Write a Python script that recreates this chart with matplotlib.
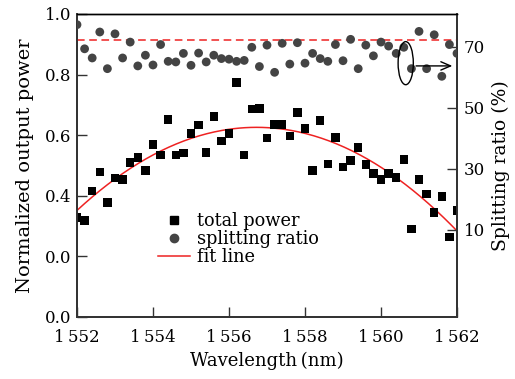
import numpy as np
import matplotlib
matplotlib.use('Agg')
import matplotlib.pyplot as plt
from matplotlib.patches import Ellipse
from matplotlib.lines import Line2D

plt.rcParams['font.family'] = ['DejaVu Serif']

# wavelength grid, 0.2 nm step
wavelength = np.linspace(1552, 1562, 51)

total_power = [0.329, 0.318, 0.416, 0.479, 0.377, 0.458, 0.453, 0.509, 0.526, 0.483,
               0.569, 0.534, 0.652, 0.534, 0.541, 0.606, 0.634, 0.542, 0.662, 0.581,
               0.605, 0.773, 0.535, 0.687, 0.689, 0.591, 0.636, 0.636, 0.598, 0.675,
               0.623, 0.483, 0.649, 0.505, 0.592, 0.495, 0.516, 0.559, 0.504, 0.474,
               0.454, 0.473, 0.461, 0.519, 0.291, 0.453, 0.406, 0.344, 0.398, 0.264,
               0.352]

splitting_ratio = [77.2, 69.3, 66.3, 74.8, 62.8, 74.2, 66.3, 71.5, 63.7, 67.2,
                   64.0, 70.7, 65.2, 65.0, 67.8, 63.9, 67.9, 65.0, 67.2, 66.1,
                   65.9, 65.2, 65.5, 69.8, 63.5, 70.5, 61.6, 71.1, 64.3, 71.3,
                   64.6, 67.8, 66.1, 65.2, 70.7, 65.4, 72.4, 62.8, 70.5, 67.0,
                   71.5, 70.2, 67.8, 69.8, 62.8, 75.0, 62.8, 73.9, 60.3, 70.7,
                   67.8]

ratio_ref = 72.2

x_ticks = [1552, 1554, 1556, 1558, 1560, 1562]
x_labels = ['1\u2009552', '1\u2009554', '1\u2009556', '1\u2009558', '1\u2009560', '1\u2009562']
y_ticks = [0.0, 0.2, 0.4, 0.6, 0.8, 1.0]
y_labels = ['0.0', '0.0', '0.4', '0.6', '0.8', '1.0']
r_ticks = [10, 30, 50, 70]

fig = plt.figure(figsize=(5.15, 3.79), dpi=100)
ax = fig.add_axes([0.1495, 0.1636, 0.7379, 0.7995])
ax2 = ax.twinx()

# quadratic fit to the total power
coef = np.polyfit(wavelength, total_power, 2)
xf = np.linspace(1552, 1562, 200)
ax.plot(xf, np.polyval(coef, xf), color='#ee2222', lw=1.1, zorder=2)
ax.scatter(wavelength, total_power, marker='s', s=38, color='black', zorder=3,
           edgecolors='none')

ax2.scatter(wavelength, splitting_ratio, marker='o', s=40, color='#444444',
            edgecolors='none', zorder=3)
ax2.axhline(ratio_ref, color='#ee2222', lw=1.1, ls=(0, (5, 3)), zorder=2)

ax.set_xlim(1552, 1562)
ax.set_ylim(0, 1.0)
ax2.set_ylim(-18.5, 80.7)

ax.set_xticks(x_ticks)
ax.set_xticklabels(x_labels)
ax.set_yticks(y_ticks)
ax.set_yticklabels(y_labels)
ax2.set_yticks(r_ticks)

for a in (ax, ax2):
    a.tick_params(direction='in', length=7, width=1.0, labelsize=12, color='#333333')
    for s in a.spines.values():
        s.set_color('#333333')
        s.set_linewidth(1.3)
    a.spines['top'].set_color('black')
    a.spines['top'].set_linewidth(1.0)
ax.tick_params(axis='x', pad=9)
ax.tick_params(axis='y', pad=4)
ax2.tick_params(axis='y', pad=5)

ax.set_xlabel('Wavelength\u2009(nm)', fontsize=13, labelpad=4)
ax.set_ylabel('Normalized output power', fontsize=14, labelpad=8)
ax2.set_ylabel('Splitting ratio (%)', fontsize=13.5, labelpad=5)

# ellipse + arrow pointing to the right axis
ax2.add_patch(Ellipse((1560.65, 64.6), 0.4, 14.1, fill=False, lw=1.0,
                      edgecolor='black', zorder=4))
ax2.annotate('', xy=(1561.95, 63.7), xytext=(1560.85, 63.7),
             arrowprops=dict(arrowstyle='->,head_length=0.7,head_width=0.3',
                             color='black', lw=1.0))

handles = [Line2D([], [], marker='s', ls='none', color='black', markersize=6),
           Line2D([], [], marker='o', ls='none', color='#444444', markersize=6),
           Line2D([], [], color='#ee2222', lw=1.1)]
ax2.legend(handles, ['total power', 'splitting ratio', 'fit line'],
           loc='upper left', bbox_to_anchor=(0.213, 0.345), frameon=False,
           fontsize=12.8, borderpad=0, borderaxespad=0, handlelength=1.8,
           handletextpad=0.4, labelspacing=0.0)

fig.savefig('out.png', dpi=100)
